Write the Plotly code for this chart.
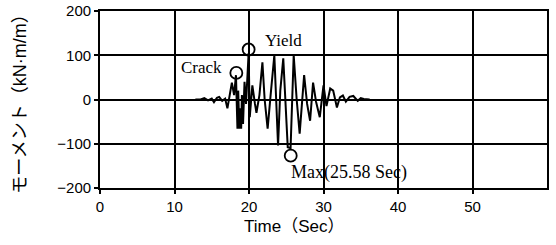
import plotly.graph_objects as go

# Time history
time_s = [12.8, 13.5, 14.0, 14.5, 15.0, 15.3, 15.7, 16.0, 16.4, 16.8, 17.1, 17.4, 17.7, 18.0, 18.25,
          18.45, 18.55, 18.7, 18.8, 18.95, 19.05, 19.2, 19.4, 19.6, 19.75, 19.95, 20.1, 20.45, 20.8,
          21.0, 21.4, 21.8, 22.1, 22.5, 22.9, 23.4, 23.9, 24.2, 24.6, 25.2, 25.58, 26.0, 26.4, 26.8,
          27.4, 27.8, 28.2, 28.6, 29.0, 29.5, 30.0, 30.4, 30.9, 31.3, 31.8, 32.2, 32.6, 33.0, 33.5,
          34.0, 34.6, 35.0, 35.4, 35.8, 36.2]
moment = [0, 0, 3, -2, 2, -6, 4, 6, -3, 2, -20, 8, 38, 10, 55,
          -66, 20, -66, -20, -66, 10, -55, 40, -10, 30, 105, -40, 32, -10,
          -30, 10, 84, 0, -66, 10, 100, -104, 20, 93, -108, -110, 100, 0, -77,
          55, -10, -48, 38, -5, -40, 32, -15, 25, 20, -18, 5, 9, -5, 6,
          8, -3, 3, 1, 0, 0]

# Event markers
event_t = [18.3, 19.95, 25.6]
event_m = [60, 113, -127]
event_names = ["Crack", "Yield", "Max(25.58 Sec)"]

x_ticks = [0, 10, 20, 30, 40, 50]
y_ticks = [200, 100, 0, -100, -200]
y_tick_text = ["200", "100", "0", "\u2212100", "\u2212200"]

x_title = "Time（Sec）"
y_title = "モーメント（kN·m/m）"

fig = go.Figure()
fig.add_trace(go.Scatter(x=time_s, y=moment, mode="lines",
                         line=dict(color="black", width=2), showlegend=False))
fig.add_trace(go.Scatter(x=event_t, y=event_m, mode="markers",
                         marker=dict(symbol="circle-open", size=12, color="black",
                                     line=dict(width=1.8, color="black")),
                         showlegend=False))

serif = dict(family="Liberation Serif", size=17, color="black")
fig.add_annotation(x=event_t[0], y=event_m[0], text=event_names[0], showarrow=False,
                   xanchor="right", yanchor="middle", xshift=-12, yshift=5, font=serif)
fig.add_annotation(x=event_t[1], y=event_m[1], text=event_names[1], showarrow=False,
                   xanchor="left", yanchor="middle", xshift=14, yshift=9, font=serif)
fig.add_annotation(x=event_t[2], y=event_m[2], text=event_names[2], showarrow=False,
                   xanchor="left", yanchor="middle", xshift=-2, yshift=-17,
                   font=dict(family="Liberation Serif", size=18, color="black"))

# x-axis title (placed left of plot centre, as in the original)
fig.add_annotation(x=26, xref="x", y=0, yref="paper", text=x_title, showarrow=False,
                   xanchor="center", yanchor="middle", yshift=-38,
                   font=dict(family="Liberation Sans, Noto Sans CJK JP", size=17, color="black"))

tickfont = dict(family="Liberation Sans", size=15, color="black")
fig.update_xaxes(range=[0, 60], tickvals=x_ticks, showgrid=True, gridcolor="black",
                 gridwidth=1.8, showline=True, linecolor="black", linewidth=1.8, mirror=True,
                 zeroline=False, ticks="outside", ticklen=4, tickwidth=1.5, tickcolor="black",
                 tickfont=tickfont, automargin=False)
fig.update_yaxes(range=[-200, 200], tickvals=y_ticks, ticktext=y_tick_text, showgrid=True,
                 gridcolor="black", gridwidth=1.5, showline=True, linecolor="black", linewidth=1.8,
                 mirror=True, zeroline=False, ticks="outside", ticklen=4, tickwidth=1.5,
                 tickcolor="black", tickfont=tickfont, automargin=False,
                 title=dict(text=y_title,
                            font=dict(family="Liberation Sans, Noto Sans CJK JP", size=18, color="black"),
                            standoff=26))

fig.update_layout(width=556, height=245, margin=dict(l=100, r=9, t=11, b=57),
                  plot_bgcolor="white", paper_bgcolor="white")

fig.write_html("out.html", config={"displayModeBar": False},
               post_script="document.body.style.margin='0';")
